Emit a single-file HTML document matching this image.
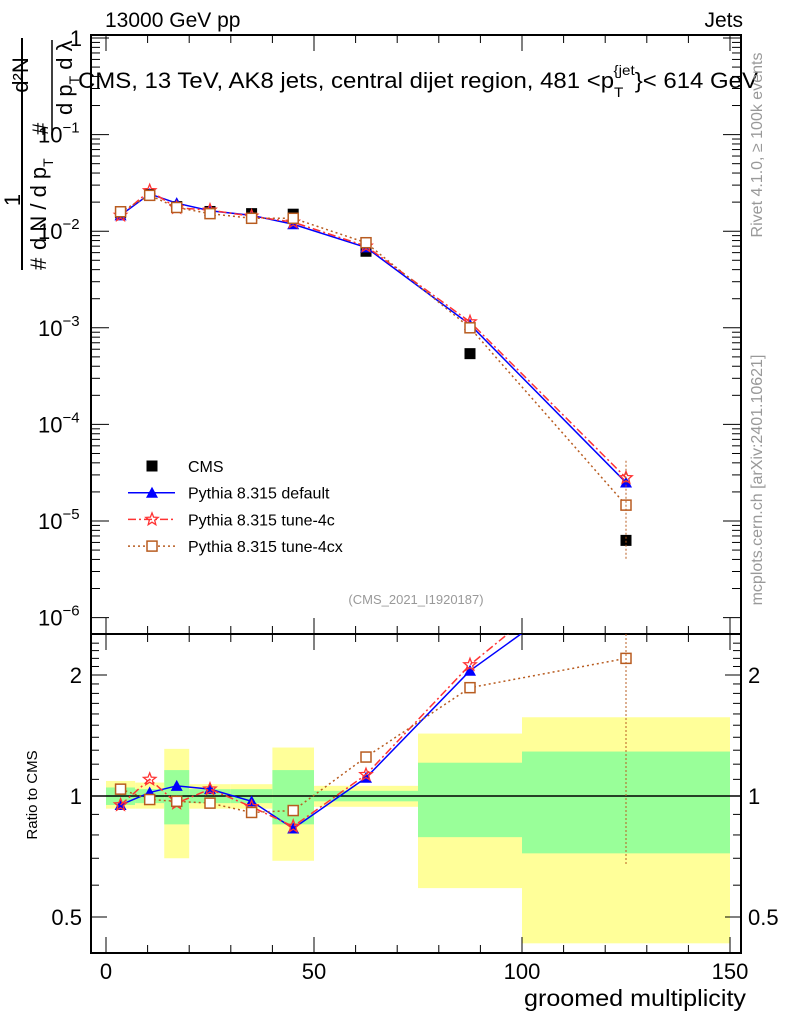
<!DOCTYPE html>
<html><head><meta charset="utf-8"><style>
body{margin:0;background:#fff}
svg text{font-family:"Liberation Sans",sans-serif}
</style></head><body>
<svg id="c" width="786" height="1024" xmlns="http://www.w3.org/2000/svg">
<g id="bands"></g>
<g id="grid"></g>
<g id="series"></g>
<text x="105" y="27" font-size="21">13000 GeV pp</text>
<text x="743" y="27" font-size="21" text-anchor="end">Jets</text>
<text x="418" y="88" font-size="22" text-anchor="middle" textLength="680" lengthAdjust="spacingAndGlyphs">CMS, 13 TeV, AK8 jets, central dijet region, 481 &lt;p<tspan font-size="14" dy="9">T</tspan><tspan font-size="14" dy="-22" dx="-9">{jet</tspan><tspan dy="13">}&lt; 614 GeV</tspan></text>
<text x="416" y="604" font-size="13" fill="#999" text-anchor="middle">(CMS_2021_I1920187)</text>
<text transform="translate(762,145) rotate(-90)" font-size="16" fill="#999" text-anchor="middle">Rivet 4.1.0, ≥ 100k events</text>
<text transform="translate(762,480) rotate(-90)" font-size="16" fill="#999" text-anchor="middle">mcplots.cern.ch [arXiv:2401.10621]</text>
<text x="746" y="1006" font-size="23" text-anchor="end" textLength="222" lengthAdjust="spacingAndGlyphs">groomed multiplicity</text>
<text transform="translate(37,795) rotate(-90)" font-size="15" text-anchor="middle">Ratio to CMS</text>
<g font-size="22">
<line x1="22" y1="270" x2="22" y2="38" stroke="#000" stroke-width="2"/>
<text transform="translate(20,200) rotate(-90)" text-anchor="middle">1</text>
<text transform="translate(46,270) rotate(-90)">#</text>
<text transform="translate(46,250) rotate(-90)">d N / d p<tspan font-size="14" dy="7">T</tspan></text>
<line x1="52" y1="135" x2="52" y2="40" stroke="#000" stroke-width="1.5"/>
<text transform="translate(28,75) rotate(-90)" text-anchor="middle">d²N</text>
<text transform="translate(48,135) rotate(-90)">#</text>
<text transform="translate(72,115) rotate(-90)">d p<tspan font-size="14" dy="7">T</tspan><tspan dy="-7"> d λ</tspan></text>
</g>
<g id="legend"></g>
</svg>
<script>
const xCenters=[3.5,10.5,17,25,35,45,62.5,87.5,125];
const binEdges=[0,7,14,20,30,40,50,75,100,150];
const cms=[0.0155,0.024,0.018,0.016,0.0152,0.015,0.0062,0.00054,0.0000063];
const pyDef=[0.0146,0.0243,0.0195,0.0163,0.0146,0.0118,0.0068,0.00108,0.000025];
const py4c=[0.0146,0.0262,0.0175,0.0165,0.0143,0.0124,0.007,0.00115,0.000028];
const py4cx=[0.0159,0.0235,0.0176,0.0152,0.0136,0.0136,0.0076,0.001,0.0000146];
const rDef=[0.95,1.02,1.06,1.04,0.97,0.83,1.11,2.05,3.9];
const r4c=[0.95,1.10,0.96,1.04,0.94,0.84,1.13,2.12,4.4];
const r4cx=[1.04,0.98,0.97,0.96,0.91,0.92,1.25,1.86,2.2];
const yellowUp=[1.09,1.08,1.31,1.07,1.07,1.32,1.06,1.43,1.57];
const yellowDn=[0.93,0.93,0.70,0.93,0.93,0.69,0.94,0.59,0.43];
const greenUp=[1.05,1.04,1.16,1.04,1.04,1.16,1.03,1.21,1.29];
const greenDn=[0.95,0.96,0.85,0.96,0.96,0.85,0.97,0.79,0.72];
const xTicks=[0,50,100,150];
const yExp=[0,-1,-2,-3,-4,-5,-6];
const rTicks=[0.5,1,2];

const NS='http://www.w3.org/2000/svg';
const L=91,R=741,T=35,MB=634,RB=953;
const X=v=>106+v*4.16;
const Y=v=>38-Math.log10(v)*96.6;
const RY=v=>796-121*Math.log2(v);
function el(p,tag,a){const e=document.createElementNS(NS,tag);for(const k in a)e.setAttribute(k,a[k]);p.appendChild(e);return e;}
const bands=document.getElementById('bands'),grid=document.getElementById('grid'),ser=document.getElementById('series'),leg=document.getElementById('legend');
for(let i=0;i<xCenters.length;i++){
 const x0=X(binEdges[i]),x1=X(binEdges[i+1]);
 const y=el(bands,'rect',{x:x0,y:RY(yellowUp[i]),width:x1-x0,height:RY(yellowDn[i])-RY(yellowUp[i]),fill:'#ffff99'});
 
 
 const g=el(bands,'rect',{x:x0,y:RY(greenUp[i]),width:x1-x0,height:RY(greenDn[i])-RY(greenUp[i]),fill:'#99ff99'});
 
 
}
el(grid,'line',{x1:L,x2:R,y1:RY(1),y2:RY(1),stroke:'#000','stroke-width':1.5});
el(grid,'rect',{x:L,y:T,width:R-L,height:MB-T,fill:'none',stroke:'#000','stroke-width':2});
el(grid,'rect',{x:L,y:MB,width:R-L,height:RB-MB,fill:'none',stroke:'#000','stroke-width':2});
for(let v=0;v<=150;v+=10){const big=v%50==0,x=X(v);
 for(const [a,b] of [[T,MB],[MB,RB]]){
  el(grid,'line',{x1:x,x2:x,y1:b,y2:b-(big?16:8),stroke:'#000'});
  el(grid,'line',{x1:x,x2:x,y1:a,y2:a+(big?16:8),stroke:'#000'});}}
xTicks.forEach(v=>{const t=el(grid,'text',{x:X(v),y:979,'font-size':22,'text-anchor':'middle'});t.textContent=v;
 
 });
yExp.forEach(e=>{const y=Y(Math.pow(10,e));
 el(grid,'line',{x1:L,x2:L+18,y1:y,y2:y,stroke:'#000'});el(grid,'line',{x1:R,x2:R-18,y1:y,y2:y,stroke:'#000'});
 if(e<0)for(let k=2;k<10;k++){const yy=Y(k*Math.pow(10,e));el(grid,'line',{x1:L,x2:L+9,y1:yy,y2:yy,stroke:'#000'});el(grid,'line',{x1:R,x2:R-9,y1:yy,y2:yy,stroke:'#000'});}
 const t=el(grid,'text',{x:e==0?82:38,y:y+8,'font-size':22,'text-anchor':e==0?'end':'start'});
 
 
 if(e==0)t.textContent='1';else{t.textContent='10';const s=el(t,'tspan',{dy:-10,'font-size':15});s.textContent='−'+(-e);}
});
for(let v=0.4;v<=2.5;v+=0.1){const y=RY(v);if(y<MB||y>RB)continue;
 const big=[0.5,1,2].some(b=>Math.abs(b-v)<1e-6);
 el(grid,'line',{x1:L,x2:L+(big?16:8),y1:y,y2:y,stroke:'#000'});el(grid,'line',{x1:R,x2:R-(big?16:8),y1:y,y2:y,stroke:'#000'});}
rTicks.forEach(v=>{for(const [x,a] of [[82,'end'],[748,'start']]){const t=el(grid,'text',{x:x,y:RY(v)+8,'font-size':22,'text-anchor':a});t.textContent=v;
 
 }});

function marker(g,type,x,y,c){
 if(type=='sq')el(g,'rect',{x:x-5.5,y:y-5.5,width:11,height:11,fill:'#000'});
 else if(type=='tri')el(g,'polygon',{points:`${x},${y-6} ${x-6},${y+5} ${x+6},${y+5}`,fill:c});
 else if(type=='star'){let p=[];for(let k=0;k<10;k++){const r=k%2?2.8:6.5,a=-Math.PI/2+k*Math.PI/5;p.push((x+r*Math.cos(a)).toFixed(1)+','+(y+r*Math.sin(a)).toFixed(1));}el(g,'polygon',{points:p.join(' '),fill:'none',stroke:c,'stroke-width':1.3});}
 else if(type=='osq')el(g,'rect',{x:x-5,y:y-5,width:10,height:10,fill:'#fff',stroke:c,'stroke-width':1.5});
}
const cp=el(document.getElementById('c'),'clipPath',{id:'rc'});el(cp,'rect',{x:L,y:MB,width:R-L,height:RB-MB});
const series=[
 {n:'cms',v:cms,r:null,c:'#000',m:'sq',d:''},
 {n:'pythia-default',v:pyDef,r:rDef,c:'#0000ff',m:'tri',d:''},
 {n:'pythia-tune-4c',v:py4c,r:r4c,c:'#ff3333',m:'star',d:'8,3,2,3'},
 {n:'pythia-tune-4cx',v:py4cx,r:r4cx,c:'#b85c20',m:'osq',d:'2,3'}];
series.forEach(s=>{
 const g=el(ser,'g',{});
 
 
 if(s.m!='sq'){
  el(g,'polyline',{points:s.v.map((v,i)=>X(xCenters[i])+','+Y(v)).join(' '),fill:'none',stroke:s.c,'stroke-width':1.5,'stroke-dasharray':s.d});
  const rg=el(g,'g',{'clip-path':'url(#rc)'});
  el(rg,'polyline',{points:s.r.map((v,i)=>X(xCenters[i])+','+RY(v)).join(' '),fill:'none',stroke:s.c,'stroke-width':1.5,'stroke-dasharray':s.d});
  s.r.forEach((v,i)=>{if(RY(v)>MB)marker(rg,s.m,X(xCenters[i]),RY(v),s.c);});
 }
 s.v.forEach((v,i)=>marker(g,s.m,X(xCenters[i]),Y(v),s.c));
});
el(ser,'line',{x1:X(125),x2:X(125),y1:MB,y2:866,stroke:'#b85c20','stroke-dasharray':'2,2'});
el(ser,'line',{x1:X(125),x2:X(125),y1:Y(0.000042),y2:Y(0.000004),stroke:'#b85c20','stroke-dasharray':'2,2'});
const labels=['CMS','Pythia 8.315 default','Pythia 8.315 tune-4c','Pythia 8.315 tune-4cx'];
series.forEach((s,i)=>{const y=466+i*26.7;
 const g=el(leg,'g',{});
 
 
 if(s.m!='sq')el(g,'line',{x1:128,x2:175,y1:y,y2:y,stroke:s.c,'stroke-width':1.5,'stroke-dasharray':s.d});
 marker(g,s.m,152,y,s.c);
 const t=el(g,'text',{x:188,y:y+6,'font-size':16});t.textContent=labels[i];});
</script>
</body></html>
